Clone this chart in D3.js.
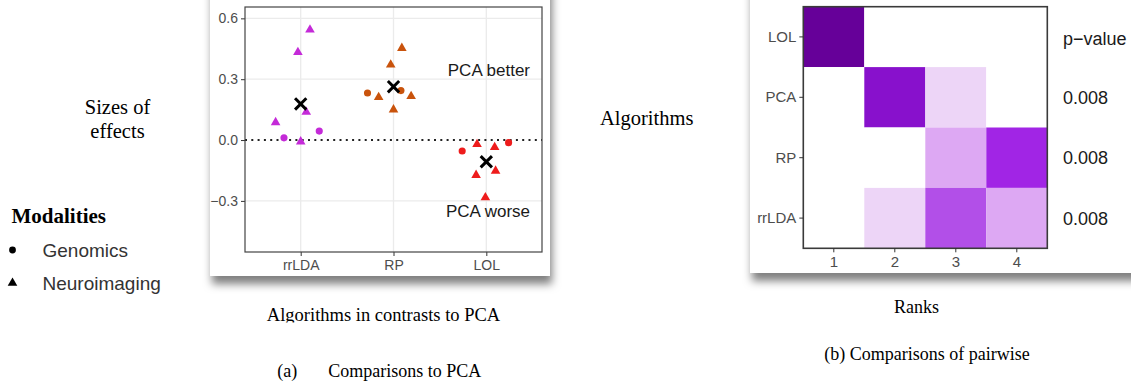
<!DOCTYPE html>
<html>
<head>
<meta charset="utf-8">
<script src="https://cdn.jsdelivr.net/npm/d3@7"></script>
<style>
  html, body { margin: 0; padding: 0; background: #ffffff; }
  svg { display: block; }
</style>
</head>
<body>
<svg id="chart" width="1131" height="383"></svg>
<script>
// ---------- data ----------
const algorithms = ["rrLDA", "RP", "LOL"];
const modalities = ["Genomics", "Neuroimaging"];
const yTicks = [-0.3, 0.0, 0.3, 0.6];

// effect sizes per algorithm (G = Genomics, N = Neuroimaging), jitter in category-step units
const rrldaEffects  = [0.544, 0.433, 0.087, 0.011, -0.008, 0.138, 0.044];
const rrldaModality = ["N", "N", "N", "G", "N", "N", "G"];
const rrldaJitter   = [0.10, -0.03, -0.27, -0.18, 0.00, 0.06, 0.20];

const rpEffects  = [0.453, 0.371, 0.232, 0.211, 0.244, 0.216, 0.150];
const rpModality = ["N", "N", "G", "N", "G", "N", "N"];
const rpJitter   = [0.09, -0.03, -0.28, -0.16, 0.08, 0.19, 0.00];

const lolEffects  = [-0.054, -0.021, -0.036, -0.013, -0.173, -0.152, -0.283];
const lolModality = ["G", "N", "N", "G", "N", "N", "N"];
const lolJitter   = [-0.26, -0.10, 0.09, 0.24, -0.11, 0.10, -0.01];

const meanEffects = [0.178, 0.263, -0.107];
const algoColors  = ["#C42AD8", "#C9530C", "#EE1C1C"];

// pairwise ranks heatmap
const rankAlgorithms = ["LOL", "PCA", "RP", "rrLDA"];
const ranks = [1, 2, 3, 4];
const rankLOL   = [1.0, 0, 0, 0];
const rankPCA   = [0, 0.8, 0.2, 0];
const rankRP    = [0, 0, 0.35, 0.7];
const rankRRLDA = [0, 0.2, 0.6, 0.35];
const pValues = ["", "0.008", "0.008", "0.008"];

// ---------- setup ----------
const svg = d3.select("#chart");
const SANS = "'Liberation Sans', Arial, Helvetica, sans-serif";
const SERIF = "'Liberation Serif', 'Times New Roman', serif";

const defs = svg.append("defs");
const shadow = defs.append("filter").attr("id", "shadow")
  .attr("x", "-10%").attr("y", "-10%").attr("width", "130%").attr("height", "130%");
shadow.append("feDropShadow").attr("dx", 2).attr("dy", 8).attr("stdDeviation", 4)
  .attr("flood-color", "#000").attr("flood-opacity", 0.5);
defs.append("clipPath").attr("id", "capclip")
  .append("rect").attr("x", 0).attr("y", 290).attr("width", 600).attr("height", 32.5);

// cards
svg.append("rect").attr("x", 210).attr("y", -20).attr("width", 340).attr("height", 296)
  .attr("fill", "#fff").attr("filter", "url(#shadow)");
svg.append("rect").attr("x", 750).attr("y", -20).attr("width", 420).attr("height", 293)
  .attr("fill", "#fff").attr("filter", "url(#shadow)");

// ---------- left panel: effect sizes ----------
const pL = { left: 245, right: 542, top: 7, bottom: 252 };
const x = d3.scalePoint().domain(algorithms).range([pL.left, pL.right]).padding(0.6);
const y = d3.scaleLinear().domain([-0.552, 0.656]).range([pL.bottom, pL.top]);

const gL = svg.append("g");
// grid
gL.selectAll("line.hg").data(yTicks.filter(t => t !== 0)).join("line")
  .attr("x1", pL.left).attr("x2", pL.right)
  .attr("y1", d => y(d)).attr("y2", d => y(d))
  .attr("stroke", "#EBEBEB").attr("stroke-width", 1.3);
gL.selectAll("line.vg").data(algorithms).join("line")
  .attr("x1", d => x(d)).attr("x2", d => x(d))
  .attr("y1", pL.top).attr("y2", pL.bottom)
  .attr("stroke", "#EBEBEB").attr("stroke-width", 1.3);

// zero line
gL.append("line").attr("x1", pL.left).attr("x2", pL.right)
  .attr("y1", y(0)).attr("y2", y(0))
  .attr("stroke", "#222").attr("stroke-width", 2).attr("stroke-dasharray", "2 4.3");

// axes
const yAxis = gL.append("g").attr("transform", `translate(${pL.left},0)`)
  .call(d3.axisLeft(y).tickValues(yTicks).tickSize(4).tickPadding(3)
    .tickFormat(d => d === 0 ? "0.0" : d3.format(".1f")(d).replace("-", "\u2212")));
yAxis.select(".domain").remove();
yAxis.selectAll("text").attr("font-family", SANS).attr("font-size", 14).attr("fill", "#4D4D4D");
yAxis.selectAll("line").attr("stroke", "#333");

const xAxis = gL.append("g").attr("transform", `translate(0,${pL.bottom})`)
  .call(d3.axisBottom(x).tickSize(4).tickPadding(4));
xAxis.select(".domain").remove();
xAxis.selectAll("text").attr("font-family", SANS).attr("font-size", 14).attr("fill", "#4D4D4D");
xAxis.selectAll("line").attr("stroke", "#333");

// border
gL.append("rect").attr("x", pL.left).attr("y", pL.top)
  .attr("width", pL.right - pL.left).attr("height", pL.bottom - pL.top)
  .attr("fill", "none").attr("stroke", "#444").attr("stroke-width", 1.2);

// points
const groups = [
  { algo: "rrLDA", eff: rrldaEffects, mod: rrldaModality, jit: rrldaJitter },
  { algo: "RP", eff: rpEffects, mod: rpModality, jit: rpJitter },
  { algo: "LOL", eff: lolEffects, mod: lolModality, jit: lolJitter }
];
const pts = [];
groups.forEach((g, gi) => g.eff.forEach((e, i) =>
  pts.push({ algo: g.algo, effect: e, mod: g.mod[i], jit: g.jit[i], color: algoColors[gi] })));

const tri = d3.symbol().type(d3.symbolTriangle).size(40);
const circ = d3.symbol().type(d3.symbolCircle).size(40);
gL.selectAll("path.pt").data(pts).join("path")
  .attr("class", "pt")
  .attr("d", d => d.mod === "N" ? tri() : circ())
  .attr("transform", d => `translate(${x(d.algo) + d.jit * x.step()},${y(d.effect)})`)
  .attr("fill", d => d.color);

const xMark = d3.symbol().type(d3.symbolX).size(85);
gL.selectAll("path.mean").data(algorithms).join("path")
  .attr("class", "mean")
  .attr("d", xMark())
  .attr("transform", (d, i) => `translate(${x(d)},${y(meanEffects[i])})`)
  .attr("fill", "none").attr("stroke", "#000").attr("stroke-width", 3);

// annotations
gL.append("text").attr("x", 530).attr("y", 76).attr("text-anchor", "end")
  .attr("font-family", SANS).attr("font-size", 17).attr("fill", "#1A1A1A").text("PCA better");
gL.append("text").attr("x", 530).attr("y", 217).attr("text-anchor", "end")
  .attr("font-family", SANS).attr("font-size", 17).attr("fill", "#1A1A1A").text("PCA worse");

// left titles & legend
svg.append("text").attr("x", 117.5).attr("y", 114).attr("text-anchor", "middle")
  .attr("font-family", SERIF).attr("font-size", 20.5).attr("fill", "#000").text("Sizes of");
svg.append("text").attr("x", 117.5).attr("y", 138).attr("text-anchor", "middle")
  .attr("font-family", SERIF).attr("font-size", 20.5).attr("fill", "#000").text("effects");

svg.append("text").attr("x", 11.5).attr("y", 223)
  .attr("font-family", SERIF).attr("font-size", 21).attr("font-weight", "bold").attr("fill", "#000")
  .text("Modalities");
const legY = d3.scalePoint().domain(modalities).range([250, 283]);
const leg = svg.append("g").selectAll("g").data(modalities).join("g")
  .attr("transform", d => `translate(0,${legY(d)})`);
leg.append("path")
  .attr("d", d => d === "Neuroimaging" ? d3.symbol().type(d3.symbolTriangle).size(40)() : d3.symbol().type(d3.symbolCircle).size(36)())
  .attr("transform", "translate(12.5,0)").attr("fill", "#000");
leg.append("text").attr("x", 42.5).attr("y", 0).attr("dy", "0.36em")
  .attr("font-family", SANS).attr("font-size", 19).attr("fill", "#333").text(d => d);

svg.append("text").attr("x", 383.5).attr("y", 320.5).attr("text-anchor", "middle")
  .attr("clip-path", "url(#capclip)")
  .attr("font-family", SERIF).attr("font-size", 18.5).attr("fill", "#000")
  .text("Algorithms in contrasts to PCA");
svg.append("text").attr("x", 277.3).attr("y", 377)
  .attr("font-family", SERIF).attr("font-size", 18).attr("fill", "#000").text("(a)");
svg.append("text").attr("x", 328.3).attr("y", 377)
  .attr("font-family", SERIF).attr("font-size", 18).attr("fill", "#000").text("Comparisons to PCA");

// ---------- right panel: ranks heatmap ----------
const pR = { left: 803.3, right: 1047.3, top: 6.7, bottom: 248.3 };
const xr = d3.scaleBand().domain(ranks).range([pR.left, pR.right]).padding(0);
const yr = d3.scaleBand().domain(rankAlgorithms).range([pR.top, pR.bottom]).padding(0);
const color = d3.scaleLinear()
  .domain([0, 0.2, 0.35, 0.6, 0.7, 0.8, 1.0])
  .range(["#FFFFFF", "#EDD5F7", "#DDA8F3", "#B24FE8", "#A125E5", "#8811CC", "#660099"]);

const rankMatrix = [rankLOL, rankPCA, rankRP, rankRRLDA];
const cells = [];
rankAlgorithms.forEach((a, i) => ranks.forEach((r, j) =>
  cells.push({ algo: a, rank: r, value: rankMatrix[i][j] })));

const gR = svg.append("g");
gR.selectAll("rect.cell").data(cells).join("rect")
  .attr("class", "cell")
  .attr("x", d => xr(d.rank)).attr("y", d => yr(d.algo))
  .attr("width", xr.bandwidth()).attr("height", yr.bandwidth())
  .attr("fill", d => color(d.value));

gR.append("rect").attr("x", pR.left).attr("y", pR.top)
  .attr("width", pR.right - pR.left).attr("height", pR.bottom - pR.top)
  .attr("fill", "none").attr("stroke", "#3A3A3A").attr("stroke-width", 1.6);

const yrAxis = gR.append("g").attr("transform", `translate(${pR.left},0)`)
  .call(d3.axisLeft(yr).tickSize(4).tickPadding(3));
yrAxis.select(".domain").remove();
yrAxis.selectAll("text").attr("font-family", SANS).attr("font-size", 15).attr("fill", "#4D4D4D");
yrAxis.selectAll("line").attr("stroke", "#333");

const xrAxis = gR.append("g").attr("transform", `translate(0,${pR.bottom})`)
  .call(d3.axisBottom(xr).tickSize(4).tickPadding(4));
xrAxis.select(".domain").remove();
xrAxis.selectAll("text").attr("font-family", SANS).attr("font-size", 15).attr("fill", "#4D4D4D");
xrAxis.selectAll("line").attr("stroke", "#333");

// p-values
gR.append("text").attr("x", 1063).attr("y", 45)
  .attr("font-family", SANS).attr("font-size", 18).attr("fill", "#1A1A1A").text("p\u2212value");
gR.selectAll("text.pv").data(rankAlgorithms).join("text")
  .attr("class", "pv")
  .attr("x", 1063).attr("y", d => yr(d) + yr.bandwidth() / 2).attr("dy", "0.36em")
  .attr("font-family", SANS).attr("font-size", 18).attr("fill", "#1A1A1A")
  .text((d, i) => pValues[i]);

svg.append("text").attr("x", 600).attr("y", 125)
  .attr("font-family", SERIF).attr("font-size", 20.5).attr("fill", "#000").text("Algorithms");
svg.append("text").attr("x", 916.5).attr("y", 313).attr("text-anchor", "middle")
  .attr("font-family", SERIF).attr("font-size", 18).attr("fill", "#000").text("Ranks");
svg.append("text").attr("x", 927).attr("y", 360).attr("text-anchor", "middle")
  .attr("font-family", SERIF).attr("font-size", 18).attr("fill", "#000").text("(b) Comparisons of pairwise");
</script>
</body>
</html>
